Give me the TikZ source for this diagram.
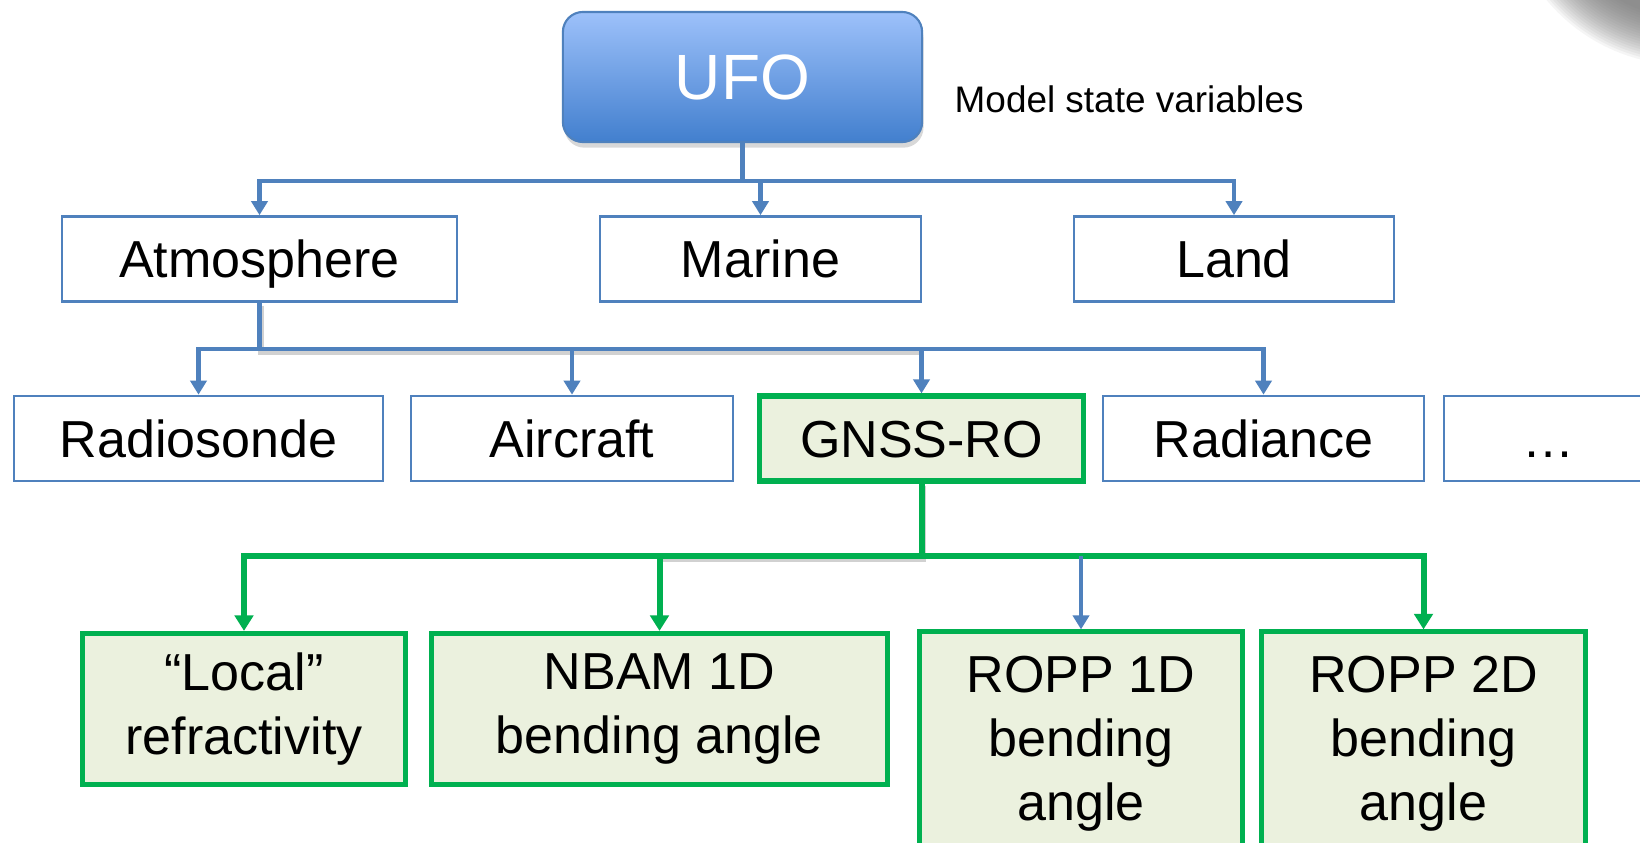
\documentclass[tikz,border=0pt]{standalone}
\usepackage{fontspec}
\setmainfont{Liberation Sans}
\usetikzlibrary{arrows.meta,shadows}
\definecolor{ofblue}{RGB}{79,129,189}
\definecolor{ofgreen}{RGB}{0,176,80}
\definecolor{olivefill}{RGB}{235,241,222}
\definecolor{ufotop}{RGB}{157,193,250}
\definecolor{ufobot}{RGB}{66,127,206}
\newcommand{\boxfont}{\fontsize{14.8}{18.2}\selectfont}

\tikzset{
  ufobox/.style={draw=ofblue, line width=0.6pt, rounded corners=0.2cm, top color=ufotop, bottom color=ufobot,
    text=white, font=\fontsize{18.2}{22}\selectfont, minimum width=3.59cm, minimum height=1.3cm,
    drop shadow={opacity=0.3, shadow xshift=0.4pt, shadow yshift=-1.6pt}},
  oneline/.style={text height=0.37cm, text depth=0pt},
  obsbox/.style={draw=ofblue, line width=0.75pt, fill=white, minimum height=0.85cm, inner sep=0pt, font=\boxfont, oneline},
  gnssbox/.style={draw=ofgreen, line width=1.45pt, fill=olivefill, inner sep=0pt, font=\boxfont, align=center},
  blueconn/.style={draw=ofblue, line width=1.3pt, -{Triangle[width=4.6pt,length=4pt]}},
  greenconn/.style={draw=ofgreen, line width=1.7pt, -{Triangle[width=5.2pt,length=4.4pt]}},
  trunkshadow/.style={draw=black, opacity=0.18, line width=1.8pt, transform canvas={xshift=0.5pt, yshift=-0.8pt}}
}

\begin{document}
\begin{tikzpicture}[x=0.01cm, y=-0.01cm]
\clip (0,0) rectangle (1640,843);
\fill[white] (0,0) rectangle (1640,843);

% grey blob, top right
\foreach \r in {0,...,19}
  \fill[black!55, opacity=0.07] (1685,-115) circle ({180-2.5*\r});

% top
\node[ufobox] (ufo) at (742.5,77) {UFO};
\node[anchor=base west, inner sep=0pt, font=\fontsize{10.5}{12}\selectfont] (msv) at (954,113) {Model state variables};

% second row
\node[obsbox, minimum width=3.95cm] (atm) at (259.5,259) {Atmosphere};
\node[obsbox, minimum width=3.21cm] (marine) at (760.5,259) {Marine};
\node[obsbox, minimum width=3.2cm] (land) at (1234,259) {Land};

% observation types
\node[obsbox, minimum width=3.69cm] (radio) at (198.5,438.5) {Radiosonde};
\node[obsbox, minimum width=3.22cm] (aircraft) at (572,438.5) {Aircraft};
\node[gnssbox, oneline, minimum width=3.23cm, minimum height=0.85cm] (gnss) at (921.5,438.5) {GNSS-RO};
\node[obsbox, minimum width=3.21cm] (radiance) at (1263.5,438.5) {Radiance};
\node[obsbox, minimum width=2.08cm] (more) at (1548,438.5) {…};

% operators
\node[gnssbox, minimum width=3.22cm, minimum height=1.51cm] (local) at (244,709) {“Local”\\refractivity};
\node[gnssbox, minimum width=4.55cm, minimum height=1.51cm] (nbam) at (659.5,709) {NBAM 1D\\bending angle};
\node[gnssbox, minimum width=3.22cm, minimum height=2.24cm] (ropp1) at (1081,744) {ROPP 1D\\bending\\angle};
\node[gnssbox, minimum width=3.23cm, minimum height=2.24cm] (ropp2) at (1423.5,744) {ROPP 2D\\bending\\angle};

\coordinate (bus1) at (0,181);
\coordinate (bus2) at (0,349);
\coordinate (bus3) at (0,556);

% shadows under the trunks
\draw[trunkshadow] (atm.south) -- (atm.south |- bus2) -- (gnss.north |- bus2);
\draw[trunkshadow] (gnss.south) -- (gnss.south |- bus3) -- (nbam.north |- bus3);

\foreach \n in {atm,marine,land}
  \draw[blueconn] (ufo.south) -- (ufo.south |- bus1) -| (\n.north);
\foreach \n in {radio,aircraft,gnss,radiance}
  \draw[blueconn] (atm.south) -- (atm.south |- bus2) -| (\n.north);
\foreach \n in {local,nbam,ropp2}
  \draw[greenconn] (gnss.south) -- (gnss.south |- bus3) -| (\n.north);
\draw[blueconn] (ropp1.north |- bus3) -- (ropp1.north);
\end{tikzpicture}
\end{document}
